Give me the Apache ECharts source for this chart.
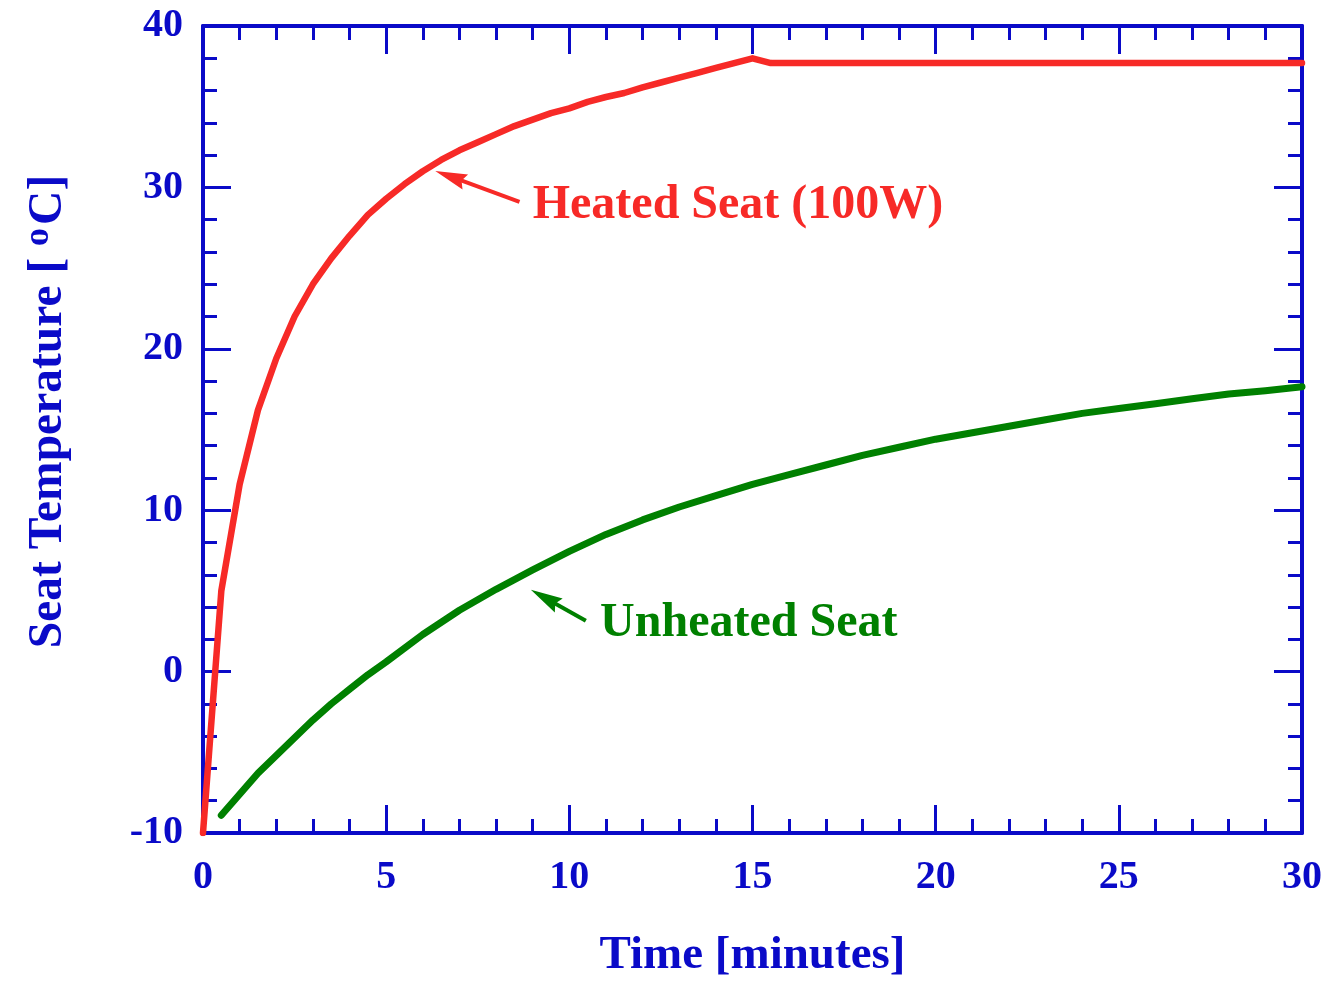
<!DOCTYPE html>
<html>
<head>
<meta charset="utf-8">
<script src="https://cdn.jsdelivr.net/npm/echarts@6/dist/echarts.min.js"></script>
<style>html,body{margin:0;padding:0;background:#fff;overflow:hidden}#c{width:1332px;height:984px}</style>
</head>
<body>
<div id="c"></div>
<script>
// ---- data (time [min], temperature [°C]) ----
var heatedTime = [0, 0.5, 1, 1.5, 2, 2.5, 3, 3.5, 4, 4.5, 5, 5.5, 6, 6.5, 7, 7.5, 8, 8.5, 9, 9.5, 10, 10.5, 11, 11.5, 12, 12.5, 13, 13.5, 14, 14.5, 15, 15.5, 30];
var heatedTemp = [-10, 5, 11.6, 16.2, 19.4, 22, 24, 25.6, 27, 28.3, 29.3, 30.2, 31, 31.7, 32.3, 32.8, 33.3, 33.8, 34.2, 34.6, 34.9, 35.3, 35.6, 35.85, 36.2, 36.5, 36.8, 37.1, 37.4, 37.7, 38.0, 37.7, 37.7];
var unheatedTime = [0.5, 1, 1.5, 2, 2.5, 3, 3.5, 4, 4.5, 5, 6, 7, 8, 9, 10, 11, 12, 13, 14, 15, 16, 17, 18, 19, 20, 21, 22, 23, 24, 25, 26, 27, 28, 29, 30];
var unheatedTemp = [-8.9, -7.6, -6.3, -5.2, -4.1, -3.0, -2.0, -1.1, -0.2, 0.6, 2.3, 3.8, 5.1, 6.3, 7.45, 8.5, 9.4, 10.2, 10.9, 11.6, 12.2, 12.8, 13.4, 13.9, 14.4, 14.8, 15.2, 15.6, 16.0, 16.3, 16.6, 16.9, 17.2, 17.4, 17.65];
var xTicks = {min: 0, max: 30, interval: 5};
var yTicks = {min: -10, max: 40, interval: 10};
// annotations: [tail, arrow-head centre] in data units; label anchor in data units
var heatedArrow = [[8.64, 29.1], [6.75, 30.68]];
var unheatedArrow = [[10.45, 3.15], [9.33, 4.58]];
var heatedLabel = {text: 'Heated Seat (100W)', at: [9.0, 28.85]};
var unheatedLabel = {text: 'Unheated Seat', at: [10.84, 3.0]};

var BLUE = '#0a0ac8', RED = '#f72a27', GREEN = '#008000';
var FONT = '"Liberation Serif", "Times New Roman", serif';
var ARROW = 'path://M8,0 L16,32 L8,28 L0,32 Z';

function zip(a, b) { return a.map(function (v, i) { return [v, b[i]]; }); }

function axisCommon(extra) {
  return Object.assign({
    type: 'value',
    axisLine: {show: true, onZero: false, lineStyle: {color: BLUE, width: 4}},
    axisTick: {show: true, inside: true, length: 28, lineStyle: {color: BLUE, width: 3}},
    minorTick: {show: true, splitNumber: 5, length: 14, lineStyle: {color: BLUE, width: 3}},
    splitLine: {show: false},
    minorSplitLine: {show: false}
  }, extra);
}

var labelStyle = {color: BLUE, fontFamily: FONT, fontWeight: 'bold', fontSize: 40};

function arrowLine(pts, color) {
  return {
    silent: true, animation: false,
    label: {show: false},
    lineStyle: {color: color, width: 4, type: 'solid'},
    data: [[
      {coord: pts[0], symbol: 'none'},
      {coord: pts[1], symbol: ARROW, symbolSize: [16, 32]}
    ]]
  };
}

function textMark(lbl, color) {
  return {
    silent: true, animation: false, symbol: 'circle', symbolSize: 0,
    label: {show: true, position: 'right', distance: 0, formatter: '{b}', color: color, fontFamily: FONT, fontWeight: 'bold', fontSize: 48},
    data: [{name: lbl.text, coord: lbl.at}]
  };
}

var option = {
  animation: false,
  backgroundColor: '#fff',
  grid: {left: 203, right: 30, top: 26, bottom: 146, containLabel: false},
  xAxis: [
    axisCommon(Object.assign({}, xTicks, {
      position: 'bottom',
      axisLabel: Object.assign({margin: 25}, labelStyle),
      name: 'Time [minutes]', nameLocation: 'middle', nameGap: 99,
      nameTextStyle: {color: BLUE, fontFamily: FONT, fontWeight: 'bold', fontSize: 47}
    })),
    axisCommon(Object.assign({}, xTicks, {position: 'top', axisLabel: {show: false}}))
  ],
  yAxis: [
    axisCommon(Object.assign({}, yTicks, {
      position: 'left',
      axisLabel: Object.assign({margin: 20}, labelStyle),
      name: '{n|Seat Temperature [ }{s|o}{n|C]}', nameLocation: 'middle', nameGap: 126,
      nameTextStyle: {
        color: BLUE, fontFamily: FONT, fontWeight: 'bold', fontSize: 47,
        padding: [0, 0, 0, 36],
        rich: {
          n: {color: BLUE, fontFamily: FONT, fontWeight: 'bold', fontSize: 47.5, lineHeight: 56},
          s: {color: BLUE, fontFamily: FONT, fontWeight: 'bold', fontSize: 36, verticalAlign: 'top', lineHeight: 8, padding: [0, 3, 0, 0]}
        }
      }
    })),
    axisCommon(Object.assign({}, yTicks, {position: 'right', axisLabel: {show: false}}))
  ],
  series: [
    {
      type: 'line', name: 'Heated', data: zip(heatedTime, heatedTemp),
      showSymbol: false, symbol: 'none', z: 3,
      lineStyle: {color: RED, width: 6.5, cap: 'round', join: 'round'},
      markLine: arrowLine(heatedArrow, RED),
      markPoint: textMark(heatedLabel, RED)
    },
    {
      type: 'line', name: 'Unheated', data: zip(unheatedTime, unheatedTemp),
      showSymbol: false, symbol: 'none', z: 3,
      lineStyle: {color: GREEN, width: 7, cap: 'round', join: 'round'},
      markLine: arrowLine(unheatedArrow, GREEN),
      markPoint: textMark(unheatedLabel, GREEN)
    }
  ]
};

var chart = echarts.init(document.getElementById('c'), null, {renderer: 'canvas'});
chart.setOption(option);
</script>
</body>
</html>
